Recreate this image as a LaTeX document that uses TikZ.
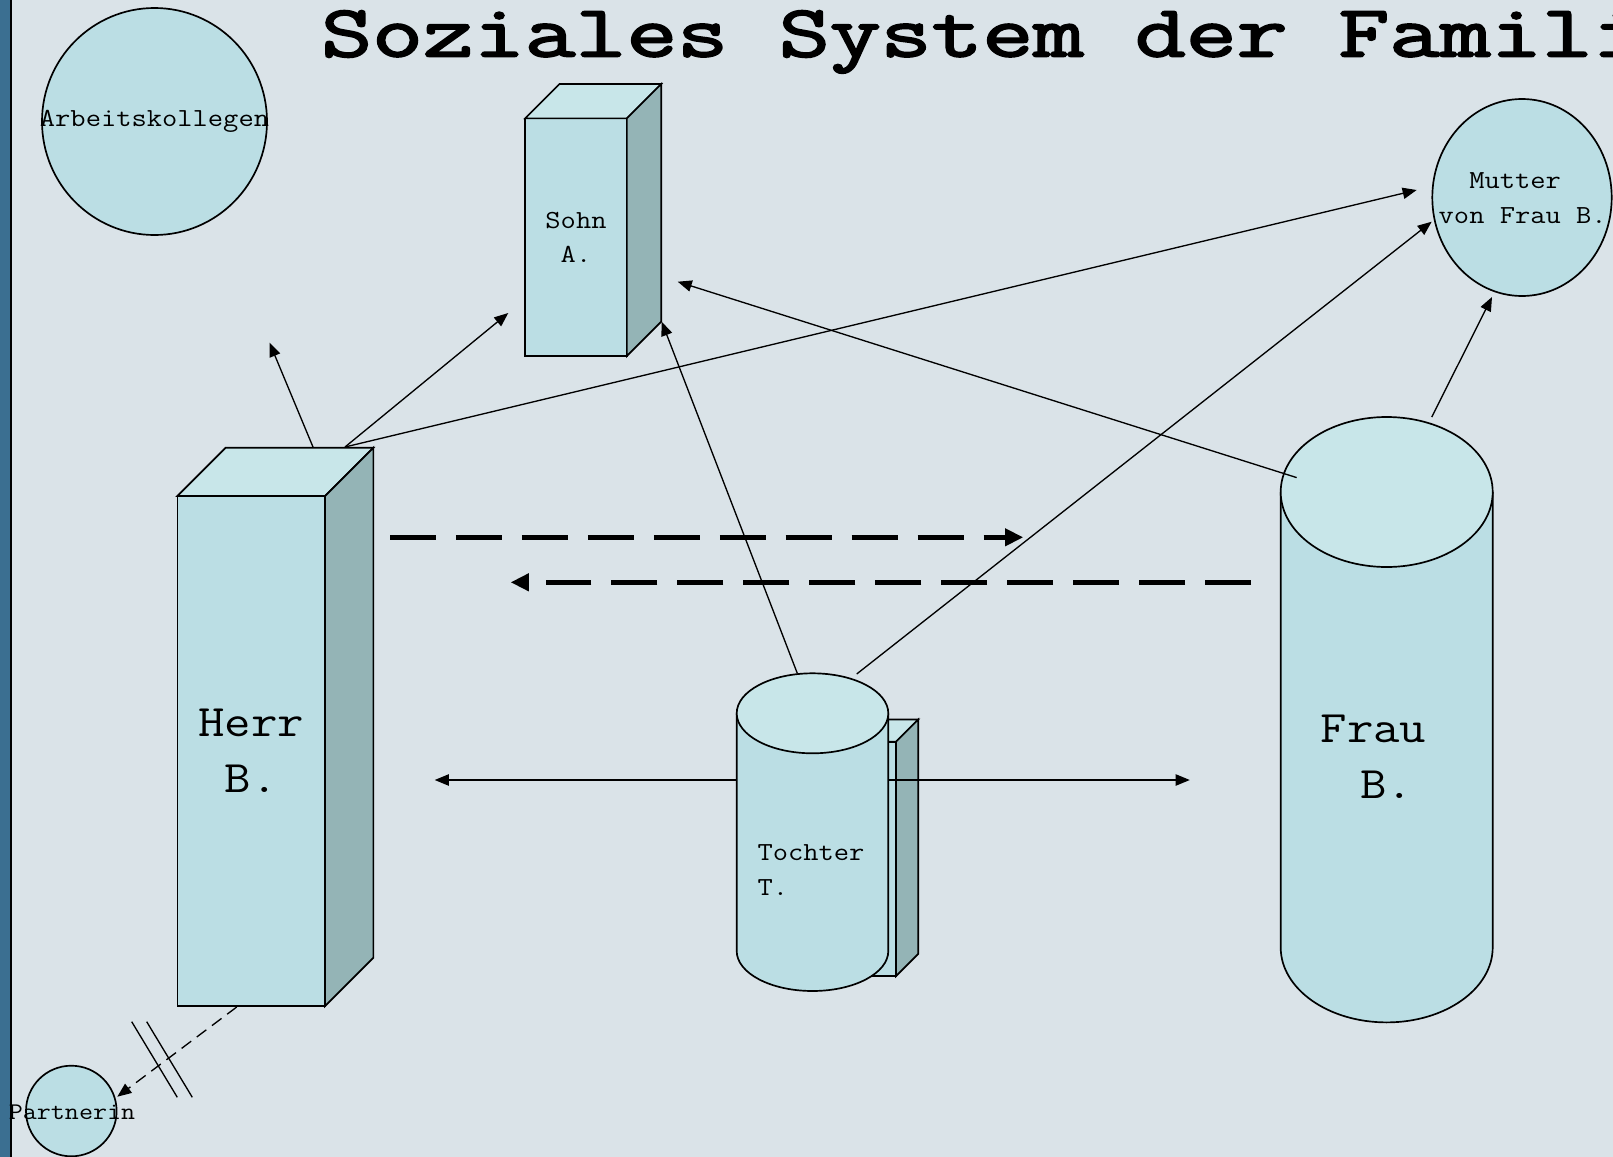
\documentclass[tikz,border=0pt]{standalone}
\usepackage{fontspec}
\newfontfamily\courier{Latin Modern Mono}[FakeStretch=1.14]
\newfontfamily\titlefont{Latin Modern Mono}[FakeStretch=1.14,FakeBold=2.5]
\usetikzlibrary{arrows.meta,shapes.geometric}

\begin{document}
\begin{tikzpicture}%社会系统:家庭
  [x=0.025cm,y=-0.025cm,line join=miter,
   % Styles
   outline/.style={draw=black,line width=1.2pt},
   front face/.style={outline,fill=frontcolor,outer sep=0pt},
   top face/.style={outline,fill=topcolor},
   side face/.style={outline,fill=sidecolor},
   bubble/.style={ellipse,outline,fill=frontcolor,inner sep=0pt,outer sep=0pt},
   small text/.style={font=\courier\fontsize{18.5}{24.5}\selectfont,align=center,inner sep=0pt},
   tiny text/.style={font=\courier\fontsize{17}{22}\selectfont,inner sep=0pt},
   big text/.style={font=\courier\fontsize{32}{40}\selectfont,align=center,inner sep=0pt},
   link/.style={line width=0.95pt,-{Triangle[length=10pt,width=8pt]}},
   both link/.style={line width=0.95pt,{Triangle[length=10pt,width=8pt]}-{Triangle[length=10pt,width=8pt]}},
   strong link/.style={line width=3.9pt,dash pattern=on 32.7pt off 14.2pt,
     -{Triangle[length=13pt,width=12pt]}},
   broken link/.style={line width=0.95pt,dash pattern=on 8.5pt off 5pt,
     -{Triangle[length=10pt,width=8pt]}}]

  % Local definitions
  \def\px{0.025cm}

  % Colors
  \definecolor{backcolor}{HTML}{DAE3E8}
  \definecolor{stripcolor}{HTML}{3B6F91}
  \definecolor{frontcolor}{HTML}{BBDEE4}
  \definecolor{topcolor}{HTML}{C8E6E9}
  \definecolor{sidecolor}{HTML}{94B4B6}

  % 背景与左边条
  \clip (0,0) rectangle (1613,1157);
  \fill[backcolor] (0,0) rectangle (1613,1157);
  \fill[stripcolor] (0,0) rectangle (10,1157);
  \draw[line width=1.4pt] (11,0) -- (11,1157);

  % 标题(右端被裁掉)
  \node[anchor=base west,inner sep=0pt,font=\titlefont\fontsize{61.6}{70}\selectfont]
    (title) at (321,56.5) {\scalebox{1}[0.85]{Soziales System der Familie}};

  % 圆:同事、母亲、伴侣
  \node[bubble,minimum width=225*\px,minimum height=227*\px] (kollegen) at (154.5,121.5) {};
  \node[small text] (kollegenlabel) at (kollegen.center) {Arbeitskollegen};
  \node[bubble,minimum width=179.4*\px,minimum height=197*\px] (mutter) at (1522,197.5) {};
  \node[small text] (mutterlabel) at (1522.7,198) {Mutter\hphantom{x}\\von Frau B.};
  \node[bubble,minimum size=90.6*\px] (partnerin) at (71.3,1111) {};
  \node[tiny text] (partnerinlabel) at (72,1112.7) {Partnerin};

  % 长方体:Herr B. 与 Sohn A.
  \node[front face,big text,minimum width=147.7*\px,minimum height=510*\px] (herr) at (251.2,751) {Herr\\B.};
  \filldraw[top face] (herr.north west) -- ++(48.3,-48.3) -- ++(147.7,0) -- (herr.north east) -- cycle;
  \filldraw[side face] (herr.north east) -- ++(48.3,-48.3) -- ++(0,510) -- (herr.south east) -- cycle;

  \node[front face,small text,minimum width=101.7*\px,minimum height=237.7*\px] (sohn) at (576,237.2) {Sohn\\A.};
  \filldraw[top face] (sohn.north west) -- ++(34.3,-34.3) -- ++(101.7,0) -- (sohn.north east) -- cycle;
  \filldraw[side face] (sohn.north east) -- ++(34.3,-34.3) -- ++(0,237.7) -- (sohn.south east) -- cycle;

  % Tochter T. 后面的薄盒子
  \node[front face,minimum width=76*\px,minimum height=234.3*\px] (tochterbox) at (858,858.9) {};
  \filldraw[top face] (tochterbox.north west) -- ++(22.3,-22.3) -- ++(76,0) -- (tochterbox.north east) -- cycle;
  \filldraw[side face] (tochterbox.north east) -- ++(22.3,-22.3) -- ++(0,234.3) -- (tochterbox.south east) -- cycle;

  % 双向箭头(在盒子之上、圆柱之下)
  \coordinate (pullleft) at (434.7,780);
  \coordinate (pullright) at (1189.8,780);
  \draw[both link] (pullleft) -- (pullright);

  % 圆柱:Tochter T. 与 Frau B.
  \filldraw[front face] (736.7,713.3) -- (736.7,951) arc[start angle=180,end angle=0,x radius=75.8,y radius=40] -- (888.3,713.3);
  \filldraw[top face] (812.5,713.3) ellipse[x radius=75.8,y radius=40];
  \node[small text,align=left,anchor=west] (tochter) at (757.3,870) {Tochter\\T.};

  \filldraw[front face] (1280.7,492) -- (1280.7,947.4) arc[start angle=180,end angle=0,x radius=106,y radius=75] -- (1492.7,492);
  \filldraw[top face] (1386.7,492) ellipse[x radius=106,y radius=75];
  \node[big text] (frau) at (1386.7,757) {Frau\hphantom{x}\\B.};

  % 连线的端点
  \coordinate (herrtopA) at (313,447);
  \coordinate (herrtopB) at (345,447);
  \coordinate (herrout) at (269.5,342.6);
  \coordinate (herrbottom) at (236.7,1007);
  \coordinate (sohnleft) at (508.3,313);
  \coordinate (sohnright) at (661.7,321.7);
  \coordinate (sohnupper) at (677.7,281.7);
  \coordinate (mutterleft) at (1416.7,190);
  \coordinate (mutterlower) at (1431.7,221.7);
  \coordinate (mutterbottom) at (1492,297);
  \coordinate (tochtertopA) at (797.3,673.3);
  \coordinate (tochtertopB) at (856.7,674);
  \coordinate (frautop) at (1296.7,477.6);
  \coordinate (fraurim) at (1431.7,417.1);
  \coordinate (partnerinin) at (117.3,1096.7);

  % 细箭头
  \draw[link] (herrtopA) -- (herrout);
  \draw[link] (herrtopB) -- (sohnleft);
  \draw[link] (herrtopB) -- (mutterleft);
  \draw[link] (tochtertopA) -- (sohnright);
  \draw[link] (tochtertopB) -- (mutterlower);
  \draw[link] (frautop) -- (sohnupper);
  \draw[link] (fraurim) -- (mutterbottom);

  % 粗虚线箭头
  \coordinate (herrflowstart) at (390,537.3);
  \coordinate (herrflowend) at (1023.3,537.3);
  \coordinate (frauflowstart) at (1251,582.3);
  \coordinate (frauflowend) at (510.6,582.3);
  \draw[strong link] (herrflowstart) -- (herrflowend);
  \draw[strong link] (frauflowstart) -- (frauflowend);

  % 断开的关系:Herr B. -> Partnerin
  \draw[broken link] (herrbottom) -- (partnerinin);
  \foreach \s in {131.7,146.7}
    \draw[line width=0.95pt] (\s,1021.7) -- ++(45.6,75.6);
\end{tikzpicture}
\end{document}
